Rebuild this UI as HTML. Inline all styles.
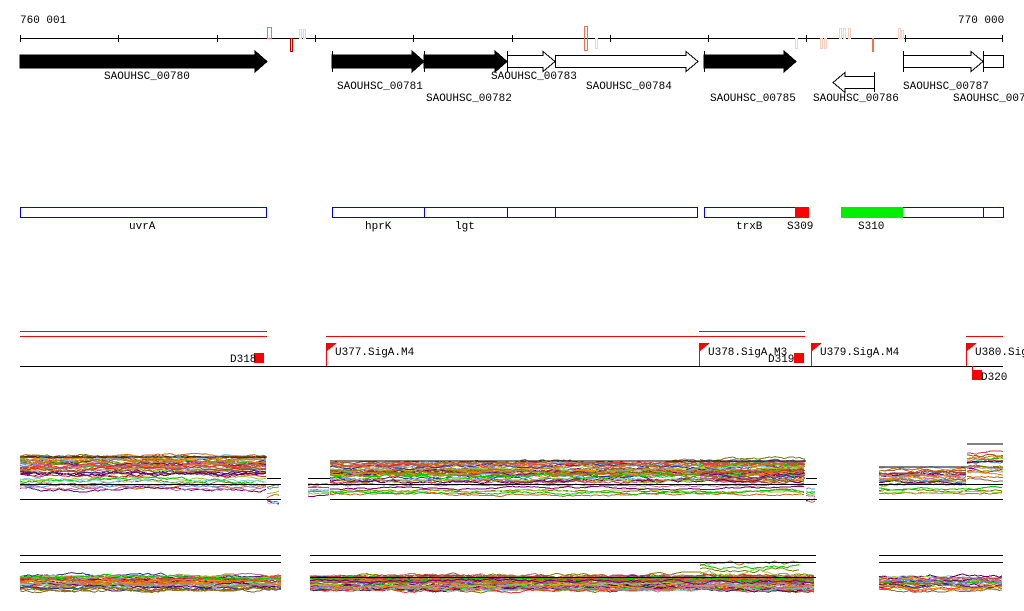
<!DOCTYPE html>
<html><head><meta charset="utf-8"><style>
html,body{margin:0;padding:0;background:#fff;}
svg{display:block}
text{font-family:"Liberation Mono","DejaVu Sans Mono",monospace;font-size:11px;fill:#000}
</style></head><body>
<svg id="s" width="1024" height="611" viewBox="0 0 1024 611" xmlns="http://www.w3.org/2000/svg" shape-rendering="crispEdges">
<!-- ruler -->
<text x="20" y="23">760 001</text>
<text x="958" y="23">770 000</text>
<line x1="20" y1="38.5" x2="1003" y2="38.5" stroke="#000"/>
<g stroke="#000">
<line x1="20.5" y1="35" x2="20.5" y2="42"/><line x1="118.5" y1="35" x2="118.5" y2="42"/><line x1="217.5" y1="35" x2="217.5" y2="42"/><line x1="315.5" y1="35" x2="315.5" y2="42"/><line x1="413.5" y1="35" x2="413.5" y2="42"/><line x1="512.5" y1="35" x2="512.5" y2="42"/><line x1="610.5" y1="35" x2="610.5" y2="42"/><line x1="708.5" y1="35" x2="708.5" y2="42"/><line x1="806.5" y1="35" x2="806.5" y2="42"/><line x1="905.5" y1="35" x2="905.5" y2="42"/><line x1="1002.5" y1="35" x2="1002.5" y2="42"/>
</g>
<g fill="none">
<rect x="267.5" y="27.5" width="4" height="11" stroke="#f07050"/>
<rect x="290.5" y="38.5" width="2" height="13" stroke="#c00000"/>
<rect x="299.5" y="29.5" width="2" height="9" stroke="#f8d0c0"/>
<rect x="303.5" y="29.5" width="2" height="9" stroke="#f8d0c0"/>
<rect x="584.5" y="26.5" width="3" height="24" stroke="#f07050"/>
<rect x="595.5" y="38.5" width="2" height="10" stroke="#f8d0c0"/>
<rect x="795.5" y="38.5" width="2" height="10" stroke="#f8d0c0"/>
<rect x="820.5" y="38.5" width="2" height="10" stroke="#f8d0c0"/>
<rect x="824.5" y="38.5" width="2" height="10" stroke="#f8d0c0"/>
<rect x="839.5" y="28.5" width="2" height="10" stroke="#f8d0c0"/>
<rect x="843.5" y="28.5" width="2" height="10" stroke="#f8d0c0"/>
<rect x="848.5" y="28.5" width="2" height="10" stroke="#f8d0c0"/>
<rect x="898.5" y="28.5" width="2" height="10" stroke="#f8d0c0"/>
<rect x="901.5" y="30.5" width="2" height="8" stroke="#f8d0c0"/>
</g>
<rect x="872" y="38" width="2" height="14" fill="#f07050"/>
<!-- genes -->
<g stroke="#000">
<polygon points="20,55 255,55 255,51 267,61.5 255,72 255,68 20,68" fill="#000"/>
<polygon points="332,55 412,55 412,51 424,61.5 412,72 412,68 332,68" fill="#000"/>
<line x1="332.5" y1="51" x2="332.5" y2="72"/>
<polygon points="424,55 495,55 495,51 507,61.5 495,72 495,68 424,68" fill="#000"/>
<line x1="424.5" y1="51" x2="424.5" y2="72"/>
<polygon points="507.5,55.5 543,55.5 543,51.5 555,61.5 543,71.5 543,67.5 507.5,67.5" fill="#fff"/>
<line x1="507.5" y1="51" x2="507.5" y2="72"/>
<polygon points="555.5,55.5 686,55.5 686,51.5 698,61.5 686,71.5 686,67.5 555.5,67.5" fill="#fff"/>
<polygon points="704,55 784,55 784,51 796,61.5 784,72 784,68 704,68" fill="#000"/>
<line x1="704.5" y1="51" x2="704.5" y2="72"/>
<polygon points="874.5,76.5 845,76.5 845,72.5 833,82.5 845,92.5 845,88.5 874.5,88.5" fill="#fff"/>
<line x1="874.5" y1="72" x2="874.5" y2="92"/>
<polygon points="903.5,55.5 971,55.5 971,51.5 983,61.5 971,71.5 971,67.5 903.5,67.5" fill="#fff"/>
<line x1="903.5" y1="51" x2="903.5" y2="72"/>
<polygon points="983.5,55.5 1003.5,55.5 1003.5,67.5 983.5,67.5" fill="#fff"/>
<line x1="983.5" y1="51" x2="983.5" y2="72"/>
</g>
<text x="104" y="79">SAOUHSC_00780</text>
<text x="337" y="89">SAOUHSC_00781</text>
<text x="426" y="101">SAOUHSC_00782</text>
<text x="491" y="79">SAOUHSC_00783</text>
<text x="586" y="89">SAOUHSC_00784</text>
<text x="710" y="101">SAOUHSC_00785</text>
<text x="813" y="101">SAOUHSC_00786</text>
<text x="903" y="89">SAOUHSC_00787</text>
<text x="953" y="101">SAOUHSC_0078</text>
<!-- operon track -->
<g fill="none" stroke="#0000ff">
<rect x="20.5" y="207.5" width="246" height="10"/>
<rect x="332.5" y="207.5" width="365" height="10"/>
<line x1="424.5" y1="207" x2="424.5" y2="218"/>
<line x1="507.5" y1="207" x2="507.5" y2="218"/>
<line x1="555.5" y1="207" x2="555.5" y2="218"/>
<rect x="704.5" y="207.5" width="104" height="10"/>
<rect x="841.5" y="207.5" width="162" height="10"/>
<line x1="983.5" y1="207" x2="983.5" y2="218"/>
</g>
<rect x="795" y="207" width="14" height="11" fill="#ff0000"/>
<rect x="841" y="207" width="62" height="11" fill="#00ee00"/>
<text x="129" y="229">uvrA</text>
<text x="365" y="229">hprK</text>
<text x="455" y="229">lgt</text>
<text x="736" y="229">trxB</text>
<text x="787" y="229">S309</text>
<text x="858" y="229">S310</text>
<!-- promoter track -->
<g stroke="#ff0000">
<line x1="20" y1="331.5" x2="267" y2="331.5"/>
<line x1="20" y1="336.5" x2="267" y2="336.5"/>
<line x1="326" y1="336.5" x2="805" y2="336.5"/>
<line x1="699" y1="331.5" x2="805" y2="331.5"/>
<line x1="966" y1="336.5" x2="1003" y2="336.5"/>
</g>
<line x1="20" y1="366.5" x2="1003" y2="366.5" stroke="#000"/>
<g fill="#ff0000">
<polygon points="326,343 337,343 326,352"/><rect x="326" y="343" width="1" height="23"/>
<polygon points="699,343 710,343 699,352"/><rect x="699" y="343" width="1" height="23"/>
<polygon points="811,343 822,343 811,352"/><rect x="811" y="343" width="1" height="23"/>
<polygon points="966,343 977,343 966,352"/><rect x="966" y="343" width="1" height="23"/>
<rect x="254" y="353" width="10" height="10"/>
<rect x="794" y="353" width="10" height="10"/>
<rect x="972" y="370" width="10" height="10"/>
<rect x="972" y="366" width="1" height="5"/>
</g>
<text x="230" y="362">D318</text>
<text x="335" y="355">U377.SigA.M4</text>
<text x="708" y="355">U378.SigA.M3</text>
<text x="768" y="362">D319</text>
<text x="820" y="355">U379.SigA.M4</text>
<text x="975" y="355">U380.SigA</text>
<text x="981" y="380">D320</text>
<g id="g4"></g>
<g id="g5"></g>
</svg>
<script>
var cols=["#d2691e","#808000","#9acd32","#00cc00","#800080","#cc6699","#6495ed","#87ceeb","#ff3333","#a0522d","#b8860b","#333399","#e07040","#996633","#cc3333","#660066","#ff8c00","#999999"];
var seed=7;function r(){seed=(seed*16807)%2147483647;return seed/2147483647;}
var ns="http://www.w3.org/2000/svg";
function bundle(g,x0,x1,ylo,yhi,n,rough){
 for(var i=0;i<n;i++){
  var base=ylo+(yhi-ylo)*r(),y=base,pts=[];
  for(var x=x0;x<=x1;x+=3){y+=(r()-0.5)*rough; y+= (base-y)*0.15; pts.push(x+","+y.toFixed(1));}
  var p=document.createElementNS(ns,"polyline");
  p.setAttribute("points",pts.join(" "));p.setAttribute("fill","none");
  p.setAttribute("stroke",cols[i%cols.length]);p.setAttribute("stroke-width","1");
  g.appendChild(p);
 }
}
function ln(g,x0,x1,y,c){var l=document.createElementNS(ns,"line");l.setAttribute("x1",x0);l.setAttribute("x2",x1);l.setAttribute("y1",y);l.setAttribute("y2",y);l.setAttribute("stroke",c||"#000");g.appendChild(l);}
var g4=document.getElementById("g4"),g5=document.getElementById("g5");
bundle(g4,20,267,455,475,35,3);bundle(g4,20,267,476,490,8,3);
bundle(g4,267,281,485,505,8,4);
bundle(g4,308,330,483,500,10,2);
bundle(g4,330,806,462,482,40,3);bundle(g4,330,806,485,495,6,2);
bundle(g4,700,806,458,478,15,3);
bundle(g4,806,817,485,505,8,4);
bundle(g4,879,967,468,486,20,3);bundle(g4,967,1003,452,480,20,3);bundle(g4,879,1003,488,496,4,2);
ln(g4,20,267,457,"#000");ln(g4,330,806,461,"#000");ln(g4,879,967,467,"#000");ln(g4,967,1003,444,"#000");
ln(g4,20,281,484.5);ln(g4,267,281,478.5);ln(g4,308,817,484.5);ln(g4,308,330,478.5);ln(g4,806,817,478.5);ln(g4,879,1003,484.5);
ln(g4,20,281,499.5);ln(g4,330,817,499.5);ln(g4,879,1003,499.5);
bundle(g5,20,281,576,590,40,3);bundle(g5,310,816,576,590,60,3);bundle(g5,879,1003,576,590,25,3);
bundle(g5,700,800,560,575,4,4);
ln(g5,20,281,555.5);ln(g5,310,816,555.5);ln(g5,879,1003,555.5);
ln(g5,20,281,562.5);ln(g5,310,816,562.5);ln(g5,879,1003,562.5);
ln(g5,310,816,577.5);
</script>
</body></html>
